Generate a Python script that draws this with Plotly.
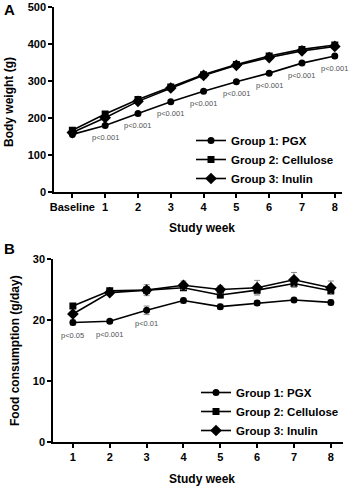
import plotly.graph_objects as go

# ---------------- Data ----------------
groups = ["Group 1: PGX", "Group 2: Cellulose", "Group 3: Inulin"]
symbols = ["circle", "square", "diamond"]

# Panel A: body weight (g)
weeks_a = [0, 1, 2, 3, 4, 5, 6, 7, 8]
week_labels_a = ["Baseline", "1", "2", "3", "4", "5", "6", "7", "8"]
bw_pgx = [156, 180, 212, 244, 272, 298, 321, 348, 367]
bw_cellulose = [167, 211, 250, 284, 317, 344, 367, 385, 397]
bw_inulin = [161, 201, 245, 281, 315, 342, 363, 381, 393]
p_labels_a = ["", "p<0.001", "p<0.001", "p<0.001", "p<0.001", "p<0.001", "p<0.001", "p<0.001", "p<0.001"]

# Panel B: food consumption (g/day)
weeks_b = [1, 2, 3, 4, 5, 6, 7, 8]
fc_pgx = [19.6, 19.8, 21.6, 23.2, 22.2, 22.8, 23.3, 22.9]
fc_pgx_err = [0.4, 0.3, 0.7, 0.4, 0.4, 0.4, 0.3, 0.4]
fc_cellulose = [22.3, 24.8, 24.9, 25.3, 24.1, 24.9, 26.0, 24.8]
fc_cellulose_err = [0.3, 0.3, 0.6, 0.4, 0.5, 0.6, 0.6, 0.6]
fc_inulin = [21.0, 24.5, 24.9, 25.7, 25.0, 25.3, 26.6, 25.3]
fc_inulin_err = [0.3, 0.4, 0.9, 0.7, 0.6, 1.2, 1.2, 1.1]
p_labels_b = ["p<0.05", "p<0.001", "p<0.01", "", "", "", "", ""]

# ---------------- Figure ----------------
W, H = 355, 489
FONT = "Arial, Liberation Sans, sans-serif"
fig = go.Figure()

bw_series = [bw_pgx, bw_cellulose, bw_inulin]
fc_series = [fc_pgx, fc_cellulose, fc_inulin]
fc_errs = [fc_pgx_err, fc_cellulose_err, fc_inulin_err]
msize = [7, 7, 9]

for g, s, ys, ms in zip(groups, symbols, bw_series, msize):
    fig.add_trace(go.Scatter(
        x=weeks_a, y=ys, mode="lines+markers", name=g,
        line=dict(color="black", width=1.6),
        marker=dict(symbol=s, size=ms, color="black"),
        xaxis="x", yaxis="y", legend="legend"))

for g, s, ys, es, ms in zip(groups, symbols, fc_series, fc_errs, msize):
    fig.add_trace(go.Scatter(
        x=weeks_b, y=ys, mode="lines+markers", name=g,
        line=dict(color="black", width=1.6),
        marker=dict(symbol=s, size=ms, color="black"),
        error_y=dict(type="data", array=es, visible=True, color="#8a8a8a", thickness=1, width=3),
        xaxis="x2", yaxis="y2", legend="legend2"))

axis_common = dict(showline=True, linecolor="black", linewidth=1.5, ticks="outside",
                   ticklen=4, tickwidth=1.5, tickcolor="black", showgrid=False, zeroline=False,
                   automargin=False,
                   tickfont=dict(family=FONT, size=11, color="black", weight="bold"))

legend_font = dict(family=FONT, size=11.5, color="black", weight="bold")

fig.update_layout(
    width=W, height=H, margin=dict(l=0, r=0, t=0, b=0, autoexpand=False),
    paper_bgcolor="white", plot_bgcolor="white",
    font=dict(family=FONT, color="black"),
    xaxis=dict(domain=[54/W, 342/W], range=[-0.56, 8.22], tickvals=weeks_a,
               ticktext=week_labels_a, anchor="y", **axis_common),
    yaxis=dict(domain=[(H-192.3)/H, (H-6.7)/H], range=[0, 500], tickvals=[0, 100, 200, 300, 400, 500],
               anchor="x", **axis_common),
    xaxis2=dict(domain=[53/W, 343/W], range=[0.46, 8.33], tickvals=weeks_b, anchor="y2", **axis_common),
    yaxis2=dict(domain=[(H-442.3)/H, (H-259)/H], range=[0, 30], tickvals=[0, 10, 20, 30],
                anchor="x2", **axis_common),
    legend=dict(x=191/W, y=(H-126)/H, xanchor="left", yanchor="top", bgcolor="rgba(0,0,0,0)",
                font=legend_font, itemwidth=30, tracegroupgap=0),
    legend2=dict(x=196/W, y=(H-378)/H, xanchor="left", yanchor="top", bgcolor="rgba(0,0,0,0)",
                 font=legend_font, itemwidth=30, tracegroupgap=0),
)

ann = []
# p-value labels
for xv, yv, t in zip(weeks_a, bw_pgx, p_labels_a):
    if t:
        ann.append(dict(x=xv, y=yv, xref="x", yref="y", text=t, showarrow=False, yshift=-12,
                        xanchor="center", yanchor="middle",
                        font=dict(family=FONT, size=7.5, color="#505050")))
for xv, yv, t in zip(weeks_b, fc_pgx, p_labels_b):
    if t:
        ann.append(dict(x=xv, y=yv, xref="x2", yref="y2", text=t, showarrow=False, yshift=-13,
                        xanchor="center", yanchor="middle",
                        font=dict(family=FONT, size=7.5, color="#505050")))

title_font = dict(family=FONT, size=12, color="black", weight="bold")
letter_font = dict(family=FONT, size=15, color="black", weight="bold")
paper_texts = [
    (202, 228, "Study week", 0, title_font),
    (202, 479, "Study week", 0, title_font),
    (9, 102, "Body weight (g)", -90, title_font),
    (15, 351, "Food consumption (g/day)", -90, title_font),
    (9, 10, "A", 0, letter_font),
    (9, 248, "B", 0, letter_font),
]
for px, py, t, ang, f in paper_texts:
    ann.append(dict(x=px/W, y=(H-py)/H, xref="paper", yref="paper", text=t, textangle=ang,
                    xanchor="center", yanchor="middle", showarrow=False, font=f))
fig.update_layout(annotations=ann)

fig.write_html("out.html", config={"displayModeBar": False},
               post_script="document.body.style.margin='0';")
